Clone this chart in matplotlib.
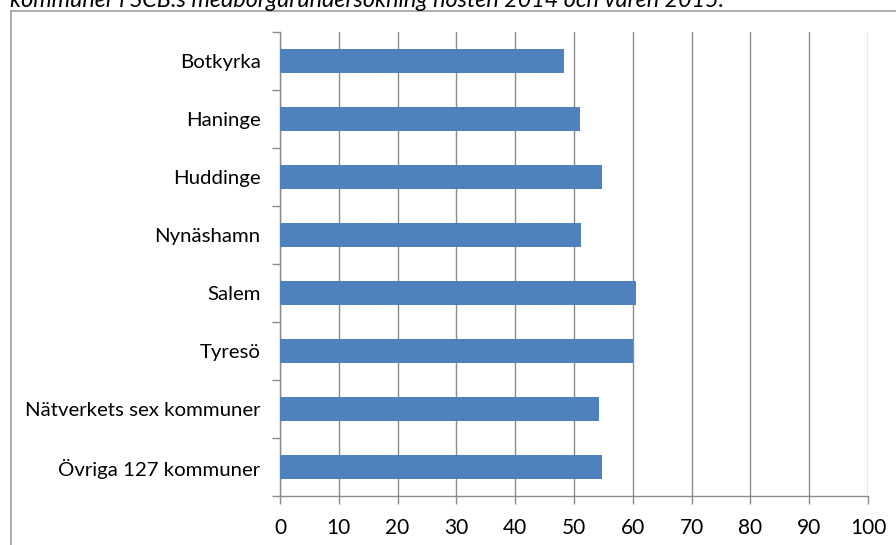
import matplotlib
matplotlib.use("Agg")
import matplotlib.pyplot as plt
from matplotlib.lines import Line2D

# data
categories = ["Botkyrka", "Haninge", "Huddinge", "Nynäshamn", "Salem",
              "Tyresö", "Nätverkets sex kommuner", "Övriga 127 kommuner"]
values = [48.3, 51.0, 54.8, 51.2, 60.5, 60.0, 54.3, 54.7]
xticks = [0, 10, 20, 30, 40, 50, 60, 70, 80, 90, 100]
title = "kommuner i SCB:s medborgarundersökning hösten 2014 och våren 2015."

plt.rcParams['font.family'] = ['Lato', 'DejaVu Sans']

W, H = 896, 545
fig = plt.figure(figsize=(W / 100, H / 100), dpi=100)

# outer chart frame (top and left edges visible)
fig.add_artist(Line2D([11 / W, 1], [1 - 11 / H, 1 - 11 / H], color="#a0a0a0", lw=1.2))
fig.add_artist(Line2D([11 / W, 11 / W], [0, 1 - 11 / H], color="#a0a0a0", lw=1.2))

# caption above chart, cut off by the top edge like in the source
fig.text(10 / W, 1 - 7 / H, title, fontsize=16.8, style="italic", va="baseline", ha="left")

ax = fig.add_axes([280 / W, (H - 496) / H, 588 / W, (496 - 32) / H])

n = len(categories)
ypos = list(range(n))[::-1]
ax.barh(ypos, values, height=0.4, color="#4f81bd", zorder=3)

ax.set_xlim(0, 100)
ax.set_ylim(-0.5, n - 0.5)
ax.set_xticks(xticks)
ax.set_xticklabels([str(t) for t in xticks])
ax.set_yticks(ypos)
ax.set_yticklabels(categories)
ax.set_yticks([i - 0.5 for i in range(n + 1)], minor=True)

ax.grid(axis="x", color="#8c8c8c", lw=1.0, zorder=0)
for s in ["top", "right"]:
    ax.spines[s].set_visible(False)
for s in ["left", "bottom"]:
    ax.spines[s].set_color("#8c8c8c")
    ax.spines[s].set_linewidth(1.0)

ax.tick_params(axis="y", which="major", length=0, pad=14, labelsize=14.7)
ax.tick_params(axis="y", which="minor", length=6, color="#8c8c8c", width=1.0)
ax.tick_params(axis="x", length=6, color="#8c8c8c", width=1.0, pad=10, labelsize=15)

fig.savefig("out.png", dpi=100)
